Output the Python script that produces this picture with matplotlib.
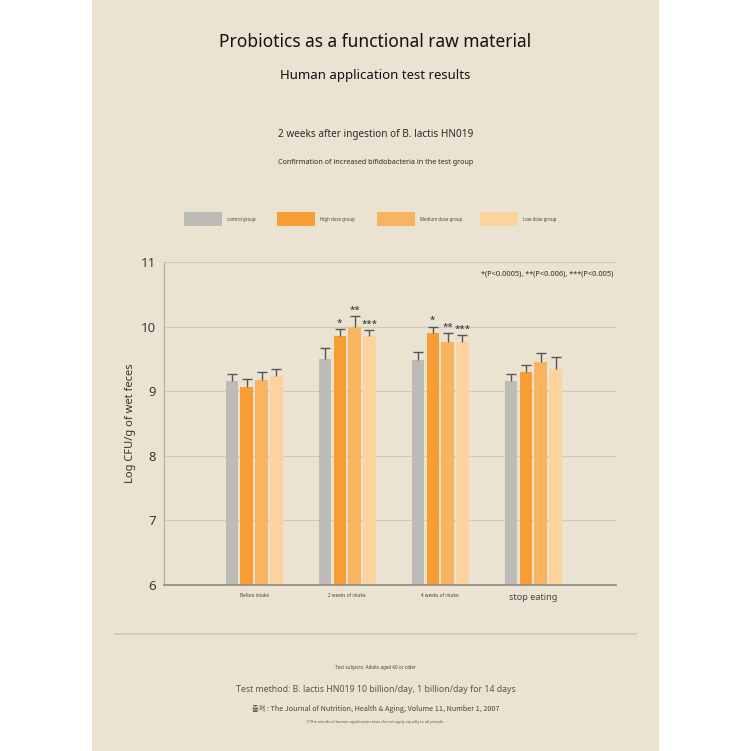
import matplotlib
matplotlib.use("Agg")
import matplotlib.pyplot as plt
from matplotlib.patches import Rectangle
import numpy as np

plt.rcParams['font.family'] = ['Noto Sans', 'DejaVu Sans']

# data
categories = ["Before intake", "2 weeks of intake", "4 weeks of intake", "stop eating"]
groups = ["control group", "High dose group", "Medium dose group", "Low dose group"]
control = [9.16, 9.50, 9.48, 9.16]
high = [9.07, 9.85, 9.90, 9.30]
medium = [9.17, 10.00, 9.76, 9.45]
low = [9.23, 9.85, 9.76, 9.34]
control_err = [0.10, 0.17, 0.12, 0.11]
high_err = [0.12, 0.11, 0.10, 0.10]
medium_err = [0.12, 0.16, 0.14, 0.14]
low_err = [0.11, 0.10, 0.11, 0.19]
stars = [["", "", "", ""],
         ["", "*", "**", "***"],
         ["", "*", "**", "***"],
         ["", "", "", ""]]

colors = ['#bcbbb7', '#f79d33', '#f9b461', '#fcd39f']
BG = '#ebe3d2'
TXT = '#2a2a2a'

fig = plt.figure(figsize=(7.51, 7.51), dpi=100)
fig.patch.set_facecolor('white')
# beige panel
fig.patches.append(Rectangle((92 / 751, 0), (659 - 92) / 751, 1, transform=fig.transFigure,
                             facecolor=BG, edgecolor='none', zorder=-5))

fig.text(0.5, 1 - 42 / 751, "Probiotics as a functional raw material", ha='center', va='center',
         fontsize=12.5, color='#111111')
fig.text(0.5, 1 - 76 / 751, "Human application test results", ha='center', va='center',
         fontsize=9.5, color='#111111')
fig.text(0.5, 1 - 134 / 751, "2 weeks after ingestion of B. lactis HN019", ha='center', va='center',
         fontsize=7.2, color=TXT)
fig.text(0.5, 1 - 163 / 751, "Confirmation of increased bifidobacteria in the test group", ha='center',
         va='center', fontsize=5.2, color=TXT)

# legend
leg_x = [184, 277, 377, 480]
for i, g in enumerate(groups):
    fig.patches.append(Rectangle((leg_x[i] / 751, 1 - 226 / 751), 38 / 751, 14 / 751,
                                 transform=fig.transFigure, facecolor=colors[i], edgecolor='none'))
    fig.text((leg_x[i] + 43) / 751, 1 - 219 / 751, g, ha='left', va='center', fontsize=3.2, color='#444444')

ax = fig.add_axes([164 / 751, 1 - 585 / 751, (616 - 164) / 751, (585 - 262) / 751])
ax.set_facecolor('none')
x = np.arange(len(categories))
w = 0.13
step = 0.161
series = [control, high, medium, low]
errs = [control_err, high_err, medium_err, low_err]
for i in range(4):
    pos = x + (i - 1.5) * step
    ax.bar(pos, np.array(series[i]) - 6, width=w, bottom=6, color=colors[i], zorder=2)
    eb = ax.errorbar(pos, series[i], yerr=[np.zeros(4), errs[i]], fmt='none', ecolor='#555555',
                     elinewidth=1, capsize=3.5, capthick=1, zorder=3)
    eb[1][0].set_visible(False)  # only the upper cap
    for j in range(4):
        if stars[j][i]:
            ax.text(pos[j], series[i][j] + errs[i][j] + 0.02, stars[j][i], ha='center', va='bottom',
                    fontsize=7, color=TXT)

ax.set_xlim(-0.968, 3.892)
ax.set_ylim(6, 11)
ax.set_yticks([6, 7, 8, 9, 10, 11])
ax.grid(axis='y', color='#d0c8b8', linewidth=0.8, zorder=0)
for s in ['top', 'right']:
    ax.spines[s].set_visible(False)
ax.spines['left'].set_color('#b0ab a0'.replace(' ', ''))
ax.spines['bottom'].set_color('#8f8a80')
ax.spines['bottom'].set_linewidth(1.2)
ax.tick_params(axis='y', length=0, labelsize=9.5, colors='#3a3a3a', pad=6)
ax.tick_params(axis='x', length=0, pad=6)
ax.set_xticks(x)
ax.set_xticklabels(categories)
for k, lab in enumerate(ax.get_xticklabels()):
    lab.set_fontsize(6.5 if k == 3 else 3.3)
    lab.set_color('#444444')
ax.set_ylabel("Log CFU/g of wet feces", fontsize=8, color='#333333', labelpad=3)
ax.text(0.995, 0.975, "*(P<0.0005), **(P<0.006), ***(P<0.005)", transform=ax.transAxes,
        ha='right', va='top', fontsize=5.3, color=TXT)

# divider and footer
fig.add_artist(plt.Line2D([115 / 751, 636 / 751], [1 - 634 / 751] * 2, transform=fig.transFigure,
                          color='#cfc7b7', linewidth=1.2))
fig.text(0.5, 1 - 668 / 751, "Test subjects: Adults aged 60 or older", ha='center', va='center',
         fontsize=3.3, color='#444444')
fig.text(0.5, 1 - 689 / 751, "Test method: B. lactis HN019 10 billion/day, 1 billion/day for 14 days",
         ha='center', va='center', fontsize=6.3, color='#555555')
fig.text(0.5, 1 - 709 / 751, "출처 : The Journal of Nutrition, Health & Aging, Volume 11, Number 1, 2007",
         ha='center', va='center', fontsize=5.2, color='#444444',
         family=['Noto Sans CJK KR', 'DejaVu Sans'])
fig.text(0.5, 1 - 722 / 751, "※The results of human application tests do not apply equally to all people.",
         ha='center', va='center', fontsize=2.8, color='#555555',
         family=['Noto Sans CJK KR', 'DejaVu Sans'])

fig.savefig('out.png', dpi=100, facecolor=fig.get_facecolor())
